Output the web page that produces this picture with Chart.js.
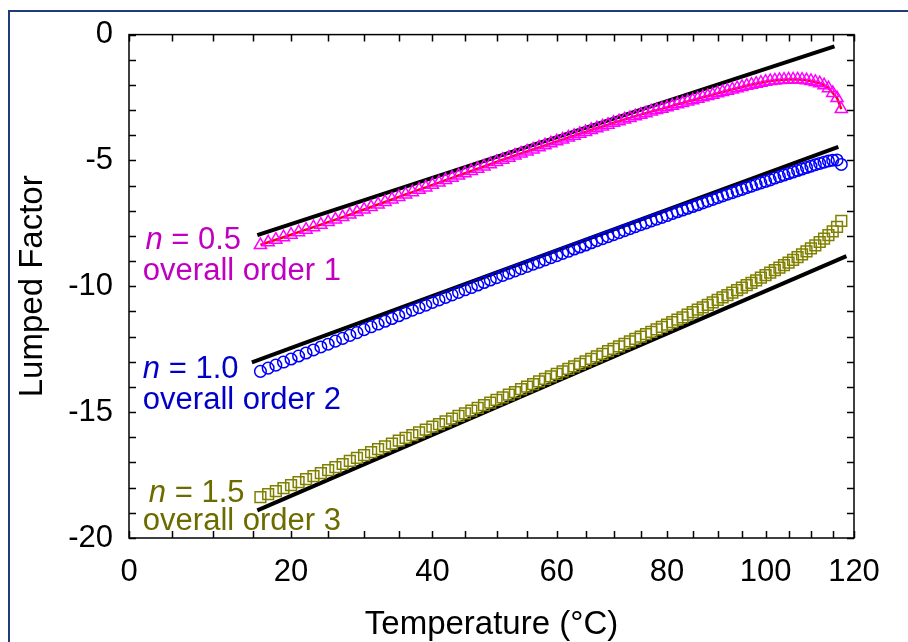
<!DOCTYPE html>
<html>
<head>
<meta charset="utf-8">
<style>
  html, body { margin: 0; padding: 0; background: #fff; }
  #wrap { width: 908px; height: 642px; }
</style>
</head>
<body>
<div id="wrap"><canvas id="chart" width="908" height="642"></canvas></div>
<script src="https://cdn.jsdelivr.net/npm/chart.js@4.4.1/dist/chart.umd.min.js"></script>
<script>
// --- Data (temperature in °C) ---
const temps = [16, 17, 18, 19, 20, 21, 22, 23, 24, 25, 26, 27, 28, 29, 30, 31, 32, 33, 34, 35,
  36, 37, 38, 39, 40, 41, 42, 43, 44, 45, 46, 47, 48, 49, 50, 51, 52, 53, 54, 55,
  56, 57, 58, 59, 60, 61, 62, 63, 64, 65, 66, 67, 68, 69, 70, 71, 72, 73, 74, 75,
  76, 77, 78, 79, 80, 81, 82, 83, 84, 85, 86, 87, 88, 89, 90, 91, 92, 93, 94, 95,
  96, 97, 98, 99, 100, 101, 102, 103, 104, 105, 106, 107, 108, 109, 110, 111, 112, 113, 114, 115,
  116, 117];

// n = 0.5 (overall order 1)
const lumpedN05 = [-8.36, -8.25, -8.15, -8.05, -7.95, -7.85, -7.75, -7.65, -7.55, -7.45,
  -7.35, -7.25, -7.15, -7.05, -6.95, -6.85, -6.75, -6.65, -6.55, -6.45,
  -6.35, -6.26, -6.16, -6.07, -5.97, -5.88, -5.78, -5.69, -5.60, -5.51,
  -5.42, -5.33, -5.24, -5.15, -5.06, -4.97, -4.89, -4.80, -4.72, -4.64,
  -4.56, -4.48, -4.40, -4.32, -4.24, -4.17, -4.09, -4.02, -3.94, -3.87,
  -3.79, -3.72, -3.65, -3.58, -3.50, -3.44, -3.37, -3.31, -3.24, -3.18,
  -3.12, -3.06, -3.00, -2.95, -2.89, -2.83, -2.77, -2.72, -2.66, -2.61,
  -2.55, -2.49, -2.44, -2.39, -2.33, -2.28, -2.23, -2.18, -2.13, -2.08,
  -2.03, -1.99, -1.95, -1.91, -1.87, -1.84, -1.82, -1.80, -1.79, -1.78,
  -1.78, -1.78, -1.79, -1.81, -1.84, -1.88, -1.93, -2.01, -2.13, -2.32,
  -2.52, -2.96];

// n = 1.0 (overall order 2)
const lumpedN10 = [-13.38, -13.25, -13.13, -13.01, -12.89, -12.77, -12.65, -12.53, -12.41, -12.30,
  -12.18, -12.07, -11.95, -11.84, -11.72, -11.61, -11.50, -11.39, -11.28, -11.17,
  -11.06, -10.95, -10.85, -10.75, -10.64, -10.54, -10.44, -10.34, -10.24, -10.14,
  -10.05, -9.95, -9.85, -9.75, -9.66, -9.57, -9.48, -9.39, -9.30, -9.21,
  -9.12, -9.04, -8.95, -8.86, -8.78, -8.69, -8.61, -8.52, -8.44, -8.36,
  -8.27, -8.19, -8.11, -8.03, -7.95, -7.87, -7.79, -7.71, -7.63, -7.55,
  -7.48, -7.40, -7.33, -7.26, -7.19, -7.11, -7.04, -6.97, -6.90, -6.83,
  -6.76, -6.69, -6.62, -6.55, -6.48, -6.41, -6.34, -6.28, -6.21, -6.15,
  -6.08, -6.02, -5.95, -5.89, -5.83, -5.77, -5.70, -5.64, -5.58, -5.52,
  -5.46, -5.40, -5.34, -5.28, -5.23, -5.17, -5.12, -5.07, -5.02, -4.99,
  -4.98, -5.16];

// n = 1.5 (overall order 3)
const lumpedN15 = [-18.38, -18.26, -18.14, -18.02, -17.90, -17.78, -17.66, -17.54, -17.42, -17.30,
  -17.18, -17.06, -16.94, -16.82, -16.71, -16.59, -16.47, -16.36, -16.25, -16.13,
  -16.02, -15.91, -15.80, -15.69, -15.58, -15.48, -15.37, -15.26, -15.15, -15.05,
  -14.94, -14.83, -14.72, -14.62, -14.51, -14.41, -14.30, -14.20, -14.09, -13.99,
  -13.89, -13.78, -13.68, -13.58, -13.48, -13.38, -13.28, -13.18, -13.08, -12.98,
  -12.88, -12.78, -12.68, -12.58, -12.49, -12.39, -12.29, -12.19, -12.09, -12.00,
  -11.90, -11.81, -11.71, -11.61, -11.52, -11.42, -11.32, -11.23, -11.13, -11.03,
  -10.93, -10.84, -10.74, -10.64, -10.54, -10.44, -10.35, -10.25, -10.15, -10.05,
  -9.95, -9.86, -9.76, -9.66, -9.56, -9.46, -9.36, -9.26, -9.16, -9.06,
  -8.95, -8.84, -8.73, -8.61, -8.49, -8.37, -8.24, -8.11, -7.97, -7.82,
  -7.64, -7.40];

// straight Arrhenius fits (end points)
const fitTempsN05 = [15.6, 115.4];
const fitN05 = [-7.97, -0.47];
const fitTempsN10 = [14.9, 116.3];
const fitN10 = [-13.02, -4.46];
const fitTempsN15 = [15.6, 118.2];
const fitN15 = [-18.90, -8.80];

// axis ticks
const xTickTemps = [0, 5, 10, 15, 20, 25, 30, 35, 40, 45, 50, 55, 60, 65, 70, 75, 80, 85, 90, 95, 100, 105, 110, 115, 120];
const xLabelTemps = [0, 20, 40, 60, 80, 100, 120];
const yLabelValues = [0, -5, -10, -15, -20];

// x axis is reciprocal absolute temperature, labelled in °C
function toInvT(t) { return -1000 / (t + 273.15); }
function fromInvT(v) { return -1000 / v - 273.15; }

function points(ts, vals) {
    return ts.map((t, i) => ({x: toInvT(t), y: vals[i]}));
}

const FONT = "'Liberation Sans', Arial, sans-serif";

// --- Text labels next to the curves (°C, value, colour) ---
const curveLabels = [
    {t: 1.9, y: -8.52, color: '#c000c0', italic: 'n', text: ' = 0.5'},
    {t: 1.6, y: -9.74, color: '#c000c0', italic: '', text: 'overall order 1'},
    {t: 1.6, y: -13.65, color: '#0000c8', italic: 'n', text: ' = 1.0'},
    {t: 1.6, y: -14.87, color: '#0000c8', italic: '', text: 'overall order 2'},
    {t: 2.3, y: -18.58, color: '#6b6b00', italic: 'n', text: ' = 1.5'},
    {t: 1.6, y: -19.68, color: '#6b6b00', italic: '', text: 'overall order 3'}
];

const pagePlugin = {
    id: 'page',
    beforeDraw(chart) {
        const ctx = chart.ctx;
        ctx.save();
        ctx.fillStyle = '#fff';
        ctx.fillRect(0, 0, chart.width, chart.height);
        ctx.strokeStyle = '#1f3c78';
        ctx.lineWidth = 2;
        ctx.beginPath();
        ctx.moveTo(9, chart.height);
        ctx.lineTo(9, 11);
        ctx.lineTo(chart.width, 11);
        ctx.stroke();
        ctx.restore();
    },
    beforeDatasetsDraw(chart) {
        const ctx = chart.ctx;
        const xs = chart.scales.x, ys = chart.scales.y;
        ctx.save();
        ctx.textBaseline = 'alphabetic';
        ctx.textAlign = 'left';
        curveLabels.forEach(l => {
            let px = xs.getPixelForValue(toInvT(l.t));
            const py = ys.getPixelForValue(l.y);
            ctx.fillStyle = l.color;
            if (l.italic) {
                ctx.font = 'italic 31px ' + FONT;
                ctx.fillText(l.italic, px, py);
                px += ctx.measureText(l.italic).width;
            }
            ctx.font = '31px ' + FONT;
            ctx.fillText(l.text, px, py);
        });
        ctx.restore();
    },
    afterDraw(chart) {
        const ctx = chart.ctx;
        const a = chart.chartArea;
        const xs = chart.scales.x, ys = chart.scales.y;
        const len = 7;
        ctx.save();
        ctx.strokeStyle = '#000';
        ctx.lineWidth = 1.5;
        ctx.strokeRect(a.left, a.top, a.right - a.left, a.bottom - a.top);
        ctx.beginPath();
        xs.ticks.forEach(tk => {
            const px = Math.round(xs.getPixelForValue(tk.value)) + 0.5;
            ctx.moveTo(px, a.bottom); ctx.lineTo(px, a.bottom - len);
            ctx.moveTo(px, a.top); ctx.lineTo(px, a.top + len);
        });
        ys.ticks.forEach(tk => {
            const py = Math.round(ys.getPixelForValue(tk.value)) + 0.5;
            ctx.moveTo(a.left, py); ctx.lineTo(a.left + len, py);
            ctx.moveTo(a.right, py); ctx.lineTo(a.right - len, py);
        });
        ctx.stroke();
        ctx.restore();
    }
};

const fitStyle = {showLine: true, borderColor: '#000', borderWidth: 4, pointRadius: 0, borderCapStyle: 'butt', order: 5};
const markerStyle = {showLine: false, backgroundColor: 'rgba(0,0,0,0)', borderWidth: 1.5};

new Chart(document.getElementById('chart'), {
    type: 'scatter',
    data: {
        datasets: [
            Object.assign({label: 'fit n=0.5', data: points(fitTempsN05, fitN05)}, fitStyle),
            Object.assign({label: 'fit n=1.0', data: points(fitTempsN10, fitN10)}, fitStyle),
            Object.assign({label: 'fit n=1.5', data: points(fitTempsN15, fitN15)}, fitStyle),
            {label: 'n=0.5 model', data: points(temps, lumpedN05), showLine: true, borderColor: '#ff0000',
                borderWidth: 2.5, pointRadius: 0, order: 4},
            Object.assign({label: 'n=0.5', data: points(temps, lumpedN05), pointStyle: 'triangle', pointRadius: 7,
                borderColor: '#ff00ff', order: 3}, markerStyle),
            Object.assign({label: 'n=1.0', data: points(temps, lumpedN10), pointStyle: 'circle', pointRadius: 5.8,
                borderColor: '#0000ff', order: 2}, markerStyle),
            Object.assign({label: 'n=1.5', data: points(temps, lumpedN15), pointStyle: 'rect', pointRadius: 7.6,
                borderColor: '#808000', order: 1}, markerStyle)
        ]
    },
    options: {
        responsive: false,
        animation: false,
        devicePixelRatio: 1,
        layout: {padding: {left: 0, top: 31, right: 54, bottom: 0}},
        plugins: {legend: {display: false}, tooltip: {enabled: false}},
        elements: {point: {hoverRadius: 0}},
        scales: {
            x: {
                type: 'linear',
                min: toInvT(0),
                max: toInvT(120),
                grid: {display: false, drawTicks: false},
                border: {display: false},
                afterBuildTicks: scale => { scale.ticks = xTickTemps.map(t => ({value: toInvT(t)})); },
                afterFit: scale => { scale.height = 104; },
                ticks: {
                    autoSkip: false,
                    maxRotation: 0,
                    padding: 16,
                    color: '#000',
                    font: {family: FONT, size: 31},
                    callback: v => {
                        const t = Math.round(fromInvT(v));
                        return xLabelTemps.includes(t) ? String(t) : '';
                    }
                },
                title: {display: true, text: 'Temperature (°C)', color: '#000',
                    font: {family: FONT, size: 33}, padding: {top: 0, bottom: -3}}
            },
            y: {
                type: 'linear',
                min: -20,
                max: 0,
                grid: {display: false, drawTicks: false},
                border: {display: false},
                afterFit: scale => { scale.width = 129; },
                ticks: {
                    stepSize: 1,
                    autoSkip: false,
                    padding: 16,
                    color: '#000',
                    font: {family: FONT, size: 31},
                    callback: v => yLabelValues.includes(v) ? String(v) : ''
                },
                title: {display: true, text: 'Lumped Factor', color: '#000',
                    font: {family: FONT, size: 33}, padding: {top: 13, bottom: 0}}
            }
        }
    },
    plugins: [pagePlugin]
});
</script>
</body>
</html>
